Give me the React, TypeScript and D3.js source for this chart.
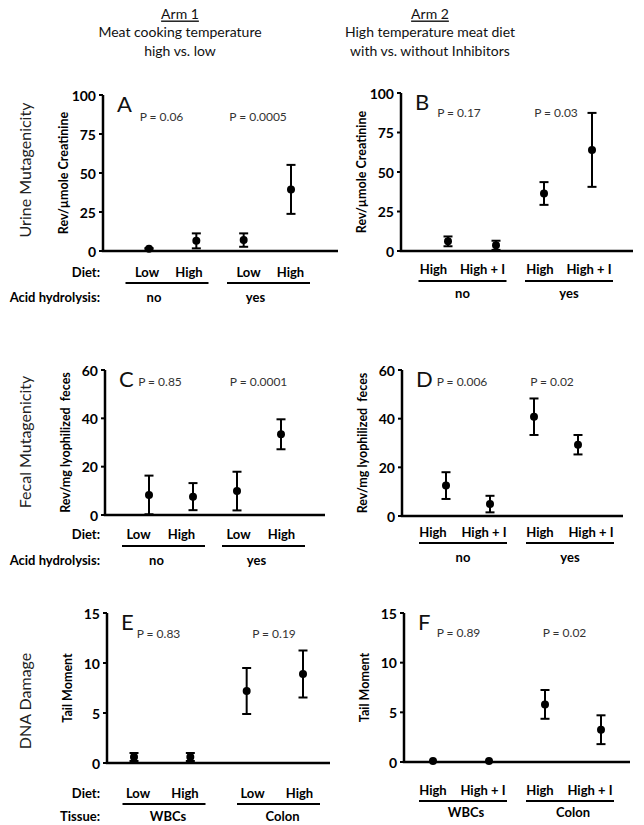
import React from 'react'
import { scaleLinear } from 'd3'

// categories
const arm1Diet = ['Low', 'High']
const arm2Diet = ['High', 'High + I']
const hydrolysisGroups = ['no', 'yes']
const tissueGroups = ['WBCs', 'Colon']

// tick values
const urineTicks = [0, 25, 50, 75, 100]
const fecalTicks = [0, 20, 40, 60]
const dnaTicks = [0, 5, 10, 15]

// means and error (half-width) per point: no-Low/High, yes-Low/High
const urineArm1Mean = [1.5, 6.5, 7, 39.5]
const urineArm1Err = [0.4, 4.8, 4.3, 15.7]
const urineArm2Mean = [6.1, 3.6, 36.4, 64]
const urineArm2Err = [3.1, 2.9, 7.2, 23.4]
const fecalArm1Mean = [8.3, 7.6, 9.9, 33.4]
const fecalArm1Err = [8, 5.6, 8, 6.2]
const fecalArm2Mean = [12.5, 4.9, 40.8, 29.3]
const fecalArm2Err = [5.5, 3.4, 7.5, 4]
const dnaArm1Mean = [0.6, 0.6, 7.2, 8.9]
const dnaArm1Err = [0.4, 0.4, 2.3, 2.35]
const dnaArm2Mean = [0.1, 0.1, 5.8, 3.25]
const dnaArm2Err = [0, 0, 1.45, 1.45]

const urineArm1P = ['P = 0.06', 'P = 0.0005']
const urineArm2P = ['P = 0.17', 'P = 0.03']
const fecalArm1P = ['P = 0.85', 'P = 0.0001']
const fecalArm2P = ['P = 0.006', 'P = 0.02']
const dnaArm1P = ['P = 0.83', 'P = 0.19']
const dnaArm2P = ['P = 0.89', 'P = 0.02']

const FONT = "Lato, 'Open Sans', sans-serif"

const panels = [
  {
    letter: 'A', mean: urineArm1Mean, err: urineArm1Err, ticks: urineTicks, cats: arm1Diet,
    groups: hydrolysisGroups, p: urineArm1P, yTitle: 'Rev/µmole Creatinine',
    section: 'Urine Mutagenicity', rowLabels: ['Diet:', 'Acid hydrolysis:'],
    lay: { axisX: 103, top: 95, bottom: 251, xEnd: 338, x0: 149, x3: 291, catY: 272, lineY: 283, groupY: 297,
      centers: [167, 268.5], half: 41.5, catOff: [-20, 22], groupShift: -13, pX: [161.5, 258], pY: 116, sectionY: 170 },
  },
  {
    letter: 'B', mean: urineArm2Mean, err: urineArm2Err, ticks: urineTicks, cats: arm2Diet,
    groups: hydrolysisGroups, p: urineArm2P, yTitle: 'Rev/µmole Creatinine',
    lay: { axisX: 401, top: 93, bottom: 251, xEnd: 633, x0: 448, x3: 592, catY: 269, lineY: 281, groupY: 293,
      centers: [462.5, 569], half: 44, catOff: [-29, 20], groupShift: 0, pX: [459, 556], pY: 112 },
  },
  {
    letter: 'C', mean: fecalArm1Mean, err: fecalArm1Err, ticks: fecalTicks, cats: arm1Diet,
    groups: hydrolysisGroups, p: fecalArm1P, yTitle: 'Rev/mg lyophilized  feces',
    section: 'Fecal Mutagenicity', rowLabels: ['Diet:', 'Acid hydrolysis:'],
    lay: { axisX: 105, top: 370, bottom: 515, xEnd: 325, x0: 149, x3: 281, catY: 534, lineY: 546, groupY: 560,
      centers: [163.5, 263.5], half: 41.5, catOff: [-25, 18], groupShift: -7, pX: [160, 258.5], pY: 381, sectionY: 442 },
  },
  {
    letter: 'D', mean: fecalArm2Mean, err: fecalArm2Err, ticks: fecalTicks, cats: arm2Diet,
    groups: hydrolysisGroups, p: fecalArm2P, yTitle: 'Rev/mg lyophilized  feces',
    lay: { axisX: 402, top: 370, bottom: 516, xEnd: 623, x0: 446, x3: 578, catY: 532, lineY: 543, groupY: 557,
      centers: [463, 570], half: 44, catOff: [-30, 21], groupShift: 0, pX: [462, 552], pY: 381 },
  },
  {
    letter: 'E', mean: dnaArm1Mean, err: dnaArm1Err, ticks: dnaTicks, cats: arm1Diet,
    groups: tissueGroups, p: dnaArm1P, yTitle: 'Tail Moment',
    section: 'DNA Damage', rowLabels: ['Diet:', 'Tissue:'],
    lay: { axisX: 107, top: 613, bottom: 763, xEnd: 330, x0: 134, x3: 303, catY: 793, lineY: 804, groupY: 816,
      centers: [164, 278.5], half: 41.5, catOff: [-26, 21], groupShift: 4, pX: [158.5, 274], pY: 633, sectionY: 701 },
  },
  {
    letter: 'F', mean: dnaArm2Mean, err: dnaArm2Err, ticks: dnaTicks, cats: arm2Diet,
    groups: tissueGroups, p: dnaArm2P, yTitle: 'Tail Moment',
    lay: { axisX: 404, top: 613, bottom: 762, xEnd: 630, x0: 433, x3: 601, catY: 790, lineY: 801, groupY: 812,
      centers: [463, 570], half: 44, catOff: [-30, 20], groupShift: 3, pX: [458.5, 564.5], pY: 632 },
  },
]

const Panel = ({ panel }: { panel: any }) => {
  const { lay } = panel
  const y = scaleLinear()
    .domain([0, panel.ticks[panel.ticks.length - 1]])
    .range([lay.bottom, lay.top])
  const x = scaleLinear().domain([0, panel.mean.length - 1]).range([lay.x0, lay.x3])
  const titleX = lay.axisX - 40
  const titleY = (lay.top + lay.bottom) / 2

  return (
    <g fontFamily={FONT}>
      {/* axes */}
      <line x1={lay.axisX} x2={lay.axisX} y1={lay.top} y2={lay.bottom} stroke="#000" strokeWidth={2.5} />
      <line x1={lay.axisX - 1.2} x2={lay.xEnd} y1={lay.bottom} y2={lay.bottom} stroke="#000" strokeWidth={2.5} />
      {panel.ticks.map((t: number) => (
        <g key={t}>
          <line x1={lay.axisX - 4} x2={lay.axisX} y1={y(t)} y2={y(t)} stroke="#000" strokeWidth={2} />
          <text x={lay.axisX - 7} y={y(t)} textAnchor="end" dominantBaseline="central"
            fontSize={14} fontWeight="bold">{t}</text>
        </g>
      ))}
      <text transform={`translate(${titleX},${titleY}) rotate(-90)`} textAnchor="middle"
        dominantBaseline="central" fontSize={12.5} fontWeight="bold" style={{ whiteSpace: 'pre' }}>{panel.yTitle}</text>
      {panel.section && (
        <text transform={`translate(24,${lay.sectionY}) rotate(-90)`} textAnchor="middle"
          dominantBaseline="central" fontSize={16} fill="#222">{panel.section}</text>
      )}

      {/* letter and p-values */}
      <text x={lay.axisX + 14} y={lay.top + 17} fontSize={22} fill="#111">{panel.letter}</text>
      {panel.p.map((s: string, i: number) => (
        <text key={s + i} x={lay.pX[i]} y={lay.pY} textAnchor="middle" dominantBaseline="central"
          fontSize={12} fill="#333">{s}</text>
      ))}

      {/* error bars and points */}
      {panel.mean.map((m: number, i: number) => {
        const e = panel.err[i]
        const cx = x(i)
        return (
          <g key={i}>
            {e > 0 && (
              <>
                <line x1={cx} x2={cx} y1={y(m + e)} y2={y(Math.max(0, m - e))} stroke="#000" strokeWidth={2} />
                <line x1={cx - 4.5} x2={cx + 4.5} y1={y(m + e)} y2={y(m + e)} stroke="#000" strokeWidth={2} />
                <line x1={cx - 4.5} x2={cx + 4.5} y1={y(Math.max(0, m - e))} y2={y(Math.max(0, m - e))} stroke="#000" strokeWidth={2} />
              </>
            )}
            <circle cx={cx} cy={y(m)} r={4} fill="#000" />
          </g>
        )
      })}

      {/* category labels */}
      {panel.groups.map((g: string, gi: number) => (
        <g key={g}>
          {panel.cats.map((c: string, ci: number) => (
            <text key={c} x={lay.centers[gi] + lay.catOff[ci]} y={lay.catY} textAnchor="middle"
              dominantBaseline="central" fontSize={13} fontWeight="bold">{c}</text>
          ))}
          <line x1={lay.centers[gi] - lay.half} x2={lay.centers[gi] + lay.half} y1={lay.lineY} y2={lay.lineY}
            stroke="#000" strokeWidth={2} />
          <text x={lay.centers[gi] + lay.groupShift} y={lay.groupY} textAnchor="middle"
            dominantBaseline="central" fontSize={13} fontWeight="bold">{g}</text>
        </g>
      ))}
      {panel.rowLabels && (
        <>
          <text x={100} y={lay.catY} textAnchor="end" dominantBaseline="central" fontSize={13} fontWeight="bold">{panel.rowLabels[0]}</text>
          <text x={100} y={lay.groupY} textAnchor="end" dominantBaseline="central" fontSize={13} fontWeight="bold">{panel.rowLabels[1]}</text>
        </>
      )}
    </g>
  )
}

const headers = [
  { title: 'Arm 1', lines: ['Meat cooking temperature', 'high vs. low'], cx: 180 },
  { title: 'Arm 2', lines: ['High temperature meat diet', 'with vs. without Inhibitors'], cx: 430 },
]

export default function App() {
  return (
    <svg width={644} height={825} style={{ position: 'absolute', left: 0, top: 0, background: '#fff' }}>
      {headers.map(h => (
        <g key={h.title} fontFamily={FONT} fontSize={14} fill="#111" textAnchor="middle">
          <text x={h.cx} y={13} dominantBaseline="central" textDecoration="underline">{h.title}</text>
          {h.lines.map((l, i) => (
            <text key={l} x={h.cx} y={31 + i * 19} dominantBaseline="central">{l}</text>
          ))}
        </g>
      ))}
      {panels.map(p => <Panel key={p.letter} panel={p} />)}
    </svg>
  )
}
